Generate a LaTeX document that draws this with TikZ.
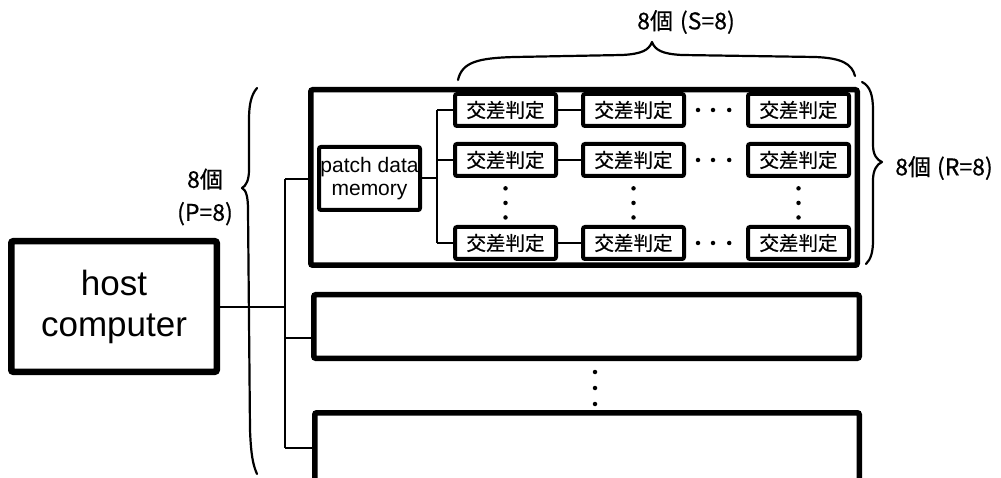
\documentclass[tikz,border=0pt]{standalone}
\usepackage{fontspec}
\setmainfont{Liberation Sans}
\newfontfamily\cjk[FakeBold=0.6]{Noto Sans CJK JP}
\begin{document}
\begin{tikzpicture}[x=1pt,y=-1pt,
  board/.style={draw,line width=5.5pt,rounded corners=2pt,inner sep=0pt},
  cell/.style={draw,line width=4pt,rounded corners=2pt,minimum width=101pt,minimum height=32pt,inner sep=0pt,font=\cjk\fontsize{19.5}{21}\selectfont},
  wire/.style={line width=2pt},
  brace/.style={line width=2.2pt,line cap=round,line join=round},
  dot/.style={circle,fill,inner sep=0pt,minimum size=4.5pt},
  lbl/.style={font=\cjk\fontsize{23}{33}\selectfont}]
\useasboundingbox (0,0) rectangle (1001,478);
\clip (0,0) rectangle (1001,478);

% host
\node[draw,line width=6.5pt,rounded corners=2pt,minimum width=205.5pt,minimum height=130.5pt,align=center,font=\fontsize{35}{41}\selectfont] (host) at (114,306.5) {host\\computer};

% boards
\node[board,minimum width=546.5pt,minimum height=175.5pt] (b1) at (584,177.5) {};
\node[board,minimum width=545.5pt,minimum height=63.5pt] (b2) at (586.5,326.5) {};
\node[board,minimum width=544.5pt,minimum height=114.5pt] (b3) at (587,470) {};

% memory
\node[draw,line width=4pt,rounded corners=2pt,minimum width=101pt,minimum height=63pt,inner sep=0pt,align=center,font=\fontsize{21}{23}\selectfont] (mem) at (369.5,178.5) {patch data\\memory};

% cells
\foreach \r/\y in {1/110,2/160,3/243}{
  \node[cell] (c\r1) at (505.5,\y) {交差判定};
  \node[cell] (c\r2) at (633.5,\y) {交差判定};
  \node[cell] (c\r3) at (798.5,\y) {交差判定};
}

% bus
\coordinate (bt) at (285,179);
\coordinate (j2) at (285,338);
\coordinate (bb) at (285,448);
\draw[wire] (host.east) -- (host.east -| bt);
\draw[wire] (bt) -- (bb);
\draw[wire] (bt) -- (bt -| b1.west);
\draw[wire] (j2) -- (j2 -| b2.west);
\draw[wire] (bb) -- (bb -| b3.west);

% internal
\coordinate (m) at (437,178);
\draw[wire] (mem.east) -- (mem.east -| m);
\draw[wire] (m |- c11) -- (m |- c31);
\foreach \r in {1,2,3}{
  \draw[wire] (m |- c\r1) -- (c\r1.west);
  \draw[wire] (c\r1.east) -- (c\r2.west);
  \path (c\r2.east) -- (c\r3.west) node[dot,pos=.2]{} node[dot,pos=.45]{} node[dot,pos=.72]{};
}
\foreach \c in {1,2,3}{
  \path (c2\c.south) -- (c3\c.north) node[dot,pos=.22]{} node[dot,pos=.53]{} node[dot,pos=.84]{};
}
\node[dot] (d1) at (595,372) {};
\node[dot] (d2) at (595,388) {};
\node[dot] (d3) at (595,404) {};

% braces
\draw[brace] (458,80) .. controls (462,62) and (478,58) .. (515,57) -- (622,55) .. controls (642,54) and (649,50) .. (652,42) .. controls (655,50) and (662,54) .. (682,55) -- (815,57) .. controls (842,58) and (852,64) .. (855,76);
\draw[brace] (862,82) .. controls (870,86) and (873,95) .. (873,110) -- (873,145) .. controls (873,155) and (877,160) .. (882,162) .. controls (877,164) and (873,170) .. (873,180) -- (873,240) .. controls (873,252) and (871,259) .. (866,264);
\draw[brace] (257,88) .. controls (251,95) and (249,105) .. (249,120) -- (249,170) .. controls (249,180) and (246,186) .. (242,188) .. controls (246,190) and (248,196) .. (248,210) -- (250,430) .. controls (251,455) and (253,465) .. (257,474);

% labels
\node[lbl] (ls) at (686,22) {8個\hspace{7pt}(S=8)};
\node[lbl] (lr) at (944,168) {8個\hspace{6pt}(R=8)};
\node[lbl,align=center] (lp) at (205,197) {8個\\(P=8)};
\end{tikzpicture}
\end{document}
